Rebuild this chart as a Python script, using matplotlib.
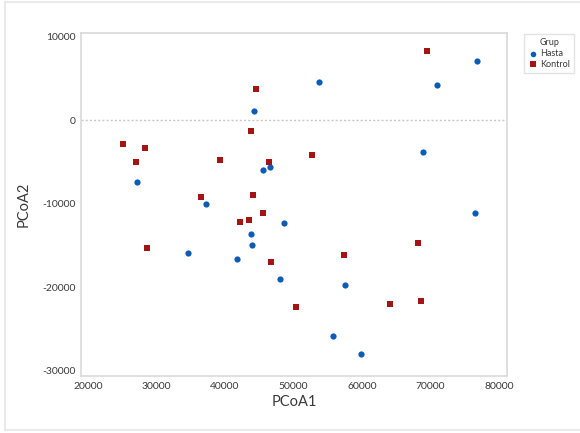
import matplotlib.pyplot as plt
from matplotlib.lines import Line2D

plt.rcParams['font.family'] = ['Lato', 'DejaVu Sans']
plt.rcParams['axes.unicode_minus'] = False

# PCoA scores per group
hasta_x = [44190, 53770, 70990, 76830, 27110, 46570, 45590, 68950, 37230, 76450,
           48610, 43800, 43940, 34640, 41750, 47990, 57520, 55720, 59850]
hasta_y = [1100, 4600, 4200, 7100, -7400, -5600, -5950, -3800, -10100, -11140,
           -12370, -13690, -14970, -15960, -16680, -19080, -19800, -25870, -28020]

kontrol_x = [69450, 44530, 43800, 25150, 28370, 27010, 39270, 46470, 52700, 44040, 36500,
             45550, 43550, 42230, 28660, 46670, 57370, 68130, 50410, 64090, 68570]
kontrol_y = [8300, 3680, -1350, -2870, -3350, -4990, -4790, -5070, -4190, -8950, -9220,
             -11140, -11940, -12250, -15370, -17040, -16170, -14770, -22360, -22070, -21710]

xticks = [20000, 30000, 40000, 50000, 60000, 70000, 80000]
yticks = [10000, 0, -10000, -20000, -30000]

blue = '#0a5cb8'
red = '#a31515'
grey_text = '#3a3a3a'
spine_col = '#d9d9d9'

fig = plt.figure(figsize=(5.8, 4.33), dpi=100)
ax = fig.add_axes([0.1397, 0.1316, 0.7343, 0.7922])

# thin frame around the whole figure
for seg in [([5/580, 5/580], [3/433, 1 - 2/433]),
            ([5/580, 1], [1 - 2/433, 1 - 2/433]),
            ([5/580, 1], [3/433, 3/433])]:
    fig.add_artist(Line2D(seg[0], seg[1], color='#e6e6e6', lw=1.2))

ax.axhline(0, color='#c8c8c8', lw=1, ls=(0, (1.5, 1.5)), zorder=1)

ax.scatter(hasta_x, hasta_y, marker='o', s=20, color=blue, label='Hasta', zorder=3,
           linewidths=0)
ax.scatter(kontrol_x, kontrol_y, marker='s', s=22, color=red, label='Kontrol', zorder=3,
           linewidths=0)

ax.set_xlim(18980, 81170)
ax.set_ylim(-30660, 10420)
ax.set_xticks(xticks)
ax.set_yticks(yticks)
ax.tick_params(length=0, labelsize=7.5, labelcolor=grey_text, pad=4)

for s in ax.spines.values():
    s.set_color(spine_col)
    s.set_linewidth(1.2)

ax.set_xlabel('PCoA1', fontsize=10.5, color=grey_text, labelpad=3)
ax.set_ylabel('PCoA2', fontsize=10.5, color=grey_text, labelpad=8)

leg = ax.legend(title='Grup', loc='upper left', bbox_to_anchor=(1.03, 1.01),
                fontsize=6.5, title_fontsize=6.5, frameon=True, fancybox=False,
                handletextpad=0.3, handlelength=1.0, borderpad=0.45,
                labelspacing=0.2, markerscale=0.9)
leg.get_frame().set_edgecolor('#dddddd')
leg.get_frame().set_linewidth(1.0)
for t in leg.get_texts():
    t.set_color(grey_text)
leg.get_title().set_color(grey_text)

fig.savefig('out.png', dpi=100)
